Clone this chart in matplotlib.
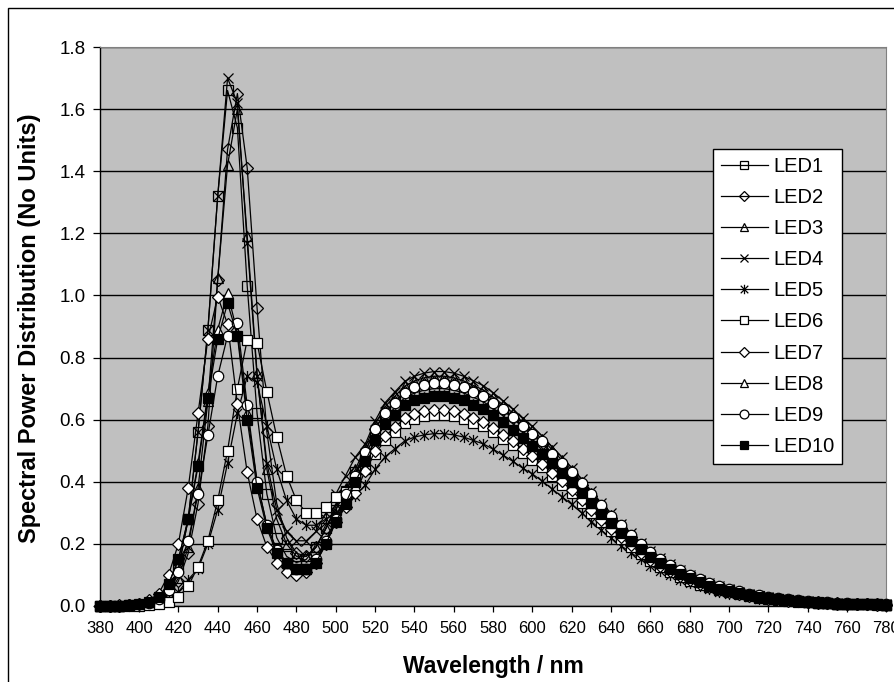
import matplotlib
matplotlib.use("Agg")
import matplotlib.pyplot as plt
from matplotlib.path import Path
from matplotlib.patches import Rectangle

# wavelength categories (nm), one point every 5 nm
wavelength = list(range(380, 785, 5))

# spectral power per LED, rows of 9 values: 380-420, 425-465, ... 740-780
led1 = [0.000, 0.000, 0.001, 0.002, 0.004, 0.008, 0.020, 0.050, 0.120,
        0.280, 0.560, 0.890, 1.320, 1.660, 1.540, 1.030, 0.620, 0.360,
        0.220, 0.160, 0.140, 0.150, 0.190, 0.250, 0.310, 0.370, 0.430,
        0.483, 0.553, 0.606, 0.638, 0.670, 0.686, 0.695, 0.700, 0.700,
        0.695, 0.686, 0.672, 0.658, 0.637, 0.613, 0.588, 0.560, 0.536,
        0.508, 0.476, 0.445, 0.413, 0.378, 0.343, 0.308, 0.277, 0.245,
        0.217, 0.189, 0.165, 0.144, 0.125, 0.107, 0.092, 0.079, 0.068,
        0.058, 0.050, 0.043, 0.036, 0.031, 0.027, 0.022, 0.019, 0.016,
        0.014, 0.012, 0.010, 0.008, 0.007, 0.006, 0.006, 0.005, 0.004]

led2 = [0.000, 0.000, 0.001, 0.002, 0.004, 0.007, 0.015, 0.035, 0.080,
        0.170, 0.330, 0.580, 1.050, 1.470, 1.650, 1.410, 0.960, 0.560,
        0.330, 0.220, 0.170, 0.160, 0.190, 0.250, 0.310, 0.370, 0.430,
        0.497, 0.569, 0.624, 0.657, 0.689, 0.706, 0.715, 0.720, 0.720,
        0.715, 0.706, 0.691, 0.677, 0.655, 0.630, 0.605, 0.576, 0.551,
        0.522, 0.490, 0.457, 0.425, 0.389, 0.353, 0.317, 0.284, 0.252,
        0.223, 0.194, 0.169, 0.148, 0.128, 0.110, 0.095, 0.081, 0.070,
        0.060, 0.051, 0.044, 0.037, 0.032, 0.027, 0.023, 0.019, 0.017,
        0.014, 0.012, 0.010, 0.009, 0.007, 0.006, 0.006, 0.005, 0.004]

led3 = [0.000, 0.000, 0.001, 0.002, 0.004, 0.009, 0.020, 0.040, 0.090,
        0.190, 0.380, 0.660, 1.055, 1.420, 1.600, 1.190, 0.750, 0.440,
        0.280, 0.200, 0.160, 0.160, 0.190, 0.250, 0.320, 0.380, 0.440,
        0.511, 0.585, 0.641, 0.675, 0.708, 0.725, 0.735, 0.740, 0.740,
        0.735, 0.725, 0.710, 0.696, 0.673, 0.648, 0.622, 0.592, 0.566,
        0.537, 0.503, 0.470, 0.437, 0.400, 0.363, 0.326, 0.292, 0.259,
        0.229, 0.200, 0.174, 0.152, 0.132, 0.113, 0.098, 0.084, 0.072,
        0.061, 0.053, 0.045, 0.038, 0.033, 0.028, 0.024, 0.020, 0.017,
        0.015, 0.013, 0.010, 0.009, 0.007, 0.007, 0.006, 0.005, 0.004]

led4 = [0.000, 0.000, 0.001, 0.002, 0.004, 0.008, 0.020, 0.050, 0.120,
        0.280, 0.560, 0.890, 1.320, 1.700, 1.620, 1.170, 0.740, 0.460,
        0.310, 0.240, 0.210, 0.210, 0.240, 0.300, 0.360, 0.420, 0.480,
        0.521, 0.596, 0.654, 0.689, 0.723, 0.740, 0.750, 0.755, 0.755,
        0.750, 0.740, 0.725, 0.710, 0.687, 0.661, 0.634, 0.604, 0.578,
        0.547, 0.513, 0.479, 0.445, 0.408, 0.370, 0.332, 0.298, 0.264,
        0.234, 0.204, 0.177, 0.155, 0.134, 0.116, 0.100, 0.085, 0.073,
        0.063, 0.054, 0.046, 0.039, 0.033, 0.029, 0.024, 0.020, 0.017,
        0.015, 0.013, 0.011, 0.009, 0.008, 0.007, 0.006, 0.005, 0.005]

led5 = [0.000, 0.000, 0.000, 0.001, 0.002, 0.004, 0.008, 0.020, 0.045,
        0.085, 0.120, 0.200, 0.310, 0.460, 0.620, 0.740, 0.720, 0.580,
        0.440, 0.340, 0.280, 0.260, 0.260, 0.280, 0.300, 0.330, 0.355,
        0.390, 0.440, 0.480, 0.506, 0.531, 0.544, 0.551, 0.555, 0.555,
        0.551, 0.544, 0.533, 0.522, 0.505, 0.486, 0.466, 0.444, 0.425,
        0.402, 0.377, 0.352, 0.327, 0.300, 0.272, 0.244, 0.219, 0.194,
        0.172, 0.150, 0.130, 0.114, 0.099, 0.085, 0.073, 0.063, 0.054,
        0.046, 0.039, 0.034, 0.029, 0.024, 0.021, 0.018, 0.015, 0.013,
        0.011, 0.009, 0.008, 0.007, 0.006, 0.005, 0.004, 0.004, 0.003]

led6 = [0.000, 0.000, 0.000, 0.000, 0.001, 0.003, 0.006, 0.014, 0.028,
        0.064, 0.127, 0.210, 0.340, 0.500, 0.700, 0.857, 0.848, 0.690,
        0.545, 0.420, 0.340, 0.300, 0.300, 0.320, 0.350, 0.368, 0.400,
        0.440, 0.490, 0.533, 0.561, 0.589, 0.603, 0.611, 0.615, 0.615,
        0.611, 0.603, 0.590, 0.578, 0.560, 0.538, 0.517, 0.492, 0.470,
        0.446, 0.418, 0.390, 0.363, 0.332, 0.301, 0.271, 0.243, 0.215,
        0.191, 0.166, 0.145, 0.126, 0.109, 0.094, 0.081, 0.069, 0.060,
        0.051, 0.044, 0.038, 0.032, 0.027, 0.023, 0.020, 0.017, 0.014,
        0.012, 0.010, 0.009, 0.007, 0.006, 0.006, 0.005, 0.004, 0.004]

led7 = [0.000, 0.001, 0.002, 0.004, 0.008, 0.018, 0.040, 0.100, 0.200,
        0.380, 0.620, 0.860, 0.996, 0.908, 0.650, 0.430, 0.280, 0.190,
        0.140, 0.110, 0.100, 0.110, 0.140, 0.200, 0.270, 0.320, 0.364,
        0.435, 0.498, 0.546, 0.575, 0.604, 0.618, 0.627, 0.631, 0.631,
        0.627, 0.618, 0.606, 0.593, 0.574, 0.552, 0.530, 0.505, 0.483,
        0.457, 0.429, 0.401, 0.372, 0.341, 0.309, 0.278, 0.249, 0.221,
        0.196, 0.170, 0.148, 0.129, 0.112, 0.097, 0.083, 0.071, 0.061,
        0.052, 0.045, 0.038, 0.033, 0.028, 0.024, 0.020, 0.017, 0.015,
        0.013, 0.011, 0.009, 0.008, 0.006, 0.006, 0.005, 0.004, 0.004]

led8 = [0.000, 0.000, 0.001, 0.003, 0.006, 0.013, 0.030, 0.070, 0.150,
        0.280, 0.460, 0.685, 0.890, 1.007, 0.880, 0.620, 0.400, 0.260,
        0.180, 0.140, 0.120, 0.120, 0.150, 0.210, 0.280, 0.335, 0.390,
        0.468, 0.536, 0.588, 0.619, 0.649, 0.665, 0.673, 0.678, 0.678,
        0.673, 0.665, 0.651, 0.638, 0.617, 0.594, 0.570, 0.543, 0.519,
        0.492, 0.462, 0.431, 0.400, 0.367, 0.333, 0.299, 0.268, 0.238,
        0.210, 0.183, 0.160, 0.139, 0.121, 0.104, 0.090, 0.077, 0.066,
        0.056, 0.048, 0.041, 0.035, 0.030, 0.026, 0.022, 0.018, 0.016,
        0.014, 0.011, 0.009, 0.008, 0.007, 0.006, 0.005, 0.005, 0.004]

led9 = [0.000, 0.000, 0.001, 0.002, 0.005, 0.010, 0.022, 0.050, 0.110,
        0.210, 0.360, 0.550, 0.740, 0.870, 0.910, 0.646, 0.400, 0.260,
        0.180, 0.140, 0.120, 0.120, 0.150, 0.210, 0.280, 0.360, 0.420,
        0.497, 0.569, 0.622, 0.655, 0.687, 0.704, 0.713, 0.718, 0.718,
        0.713, 0.704, 0.690, 0.677, 0.655, 0.633, 0.610, 0.580, 0.555,
        0.530, 0.490, 0.460, 0.430, 0.395, 0.360, 0.325, 0.290, 0.260,
        0.230, 0.200, 0.175, 0.152, 0.132, 0.115, 0.100, 0.086, 0.074,
        0.064, 0.055, 0.047, 0.040, 0.034, 0.029, 0.025, 0.021, 0.018,
        0.016, 0.014, 0.012, 0.010, 0.009, 0.008, 0.007, 0.006, 0.005]

led10 = [0.000, 0.001, 0.001, 0.003, 0.006, 0.013, 0.030, 0.070, 0.150,
         0.280, 0.450, 0.670, 0.860, 0.975, 0.870, 0.600, 0.380, 0.250,
         0.170, 0.140, 0.120, 0.120, 0.140, 0.200, 0.270, 0.330, 0.400,
         0.466, 0.533, 0.585, 0.616, 0.646, 0.662, 0.670, 0.675, 0.675,
         0.670, 0.662, 0.648, 0.635, 0.614, 0.591, 0.567, 0.540, 0.516,
         0.489, 0.459, 0.429, 0.398, 0.365, 0.331, 0.297, 0.267, 0.236,
         0.209, 0.182, 0.159, 0.138, 0.120, 0.103, 0.089, 0.076, 0.065,
         0.056, 0.048, 0.041, 0.035, 0.030, 0.026, 0.022, 0.018, 0.016,
         0.014, 0.011, 0.009, 0.008, 0.007, 0.006, 0.005, 0.005, 0.004]

labels = ["LED1", "LED2", "LED3", "LED4", "LED5",
          "LED6", "LED7", "LED8", "LED9", "LED10"]
x_ticks = list(range(380, 800, 20))
y_ticks = [0.0, 0.2, 0.4, 0.6, 0.8, 1.0, 1.2, 1.4, 1.6, 1.8]


def main():
    plt.rcParams["font.family"] = ["Liberation Sans", "DejaVu Sans"]

    W, H = 894, 682
    fig = plt.figure(figsize=(W / 100, H / 100), dpi=100)
    ax = fig.add_axes([99.7 / W, 1 - 606 / H, (886.5 - 99.7) / W, (606 - 47) / H])
    ax.set_facecolor("#C0C0C0")

    # excel style asterisk: an x with a vertical bar
    star = Path([(-1, -1), (1, 1), (-1, 1), (1, -1), (0, -1.25), (0, 1.25)],
                [Path.MOVETO, Path.LINETO] * 3)

    series = [led1, led2, led3, led4, led5, led6, led7, led8, led9, led10]
    styles = [
        ("s", "none", 7.0),
        ("D", "none", 6.0),
        ("^", "none", 7.5),
        ("x", "none", 7.5),
        (star, "none", 8.0),
        ("s", "white", 7.0),
        ("D", "white", 6.0),
        ("^", "white", 7.5),
        ("o", "white", 7.5),
        ("s", "black", 7.0),
    ]

    for vals, lab, (mk, fc, ms) in zip(series, labels, styles):
        ax.plot(wavelength, vals, color="black", lw=0.9, marker=mk,
                markersize=ms, markerfacecolor=fc, markeredgecolor="black",
                markeredgewidth=0.9, label=lab, zorder=3, clip_on=False)

    ax.set_xlim(380, 780)
    ax.set_ylim(0, 1.8)
    ax.set_xticks(x_ticks)
    ax.set_xticklabels([str(v) for v in x_ticks])
    ax.set_yticks(y_ticks)
    ax.set_yticklabels([f"{v:.1f}" for v in y_ticks])
    ax.tick_params(axis="x", direction="out", length=4, width=0.9, pad=7,
                   labelsize=12)
    ax.tick_params(axis="y", direction="out", length=5, width=0.9, pad=5,
                   labelsize=13.5)

    ax.yaxis.grid(True, color="black", lw=1.0, zorder=1)
    ax.set_axisbelow(True)
    ax.spines["left"].set_color("black")
    ax.spines["bottom"].set_color("black")
    ax.spines["left"].set_linewidth(1.0)
    ax.spines["bottom"].set_linewidth(1.0)
    ax.spines["top"].set_color("#808080")
    ax.spines["right"].set_color("#808080")

    fig.text(30 / W, 1 - 328 / H, "Spectral Power Distribution (No Units)",
             rotation=90, ha="center", va="center", fontsize=17,
             fontweight="bold")
    fig.text(493 / W, 1 - 666 / H, "Wavelength / nm", ha="center",
             va="center", fontsize=16.5, fontweight="bold")

    leg = ax.legend(loc="upper left", bbox_to_anchor=(712.7 / W, 1 - 149 / H),
                    bbox_transform=fig.transFigure, frameon=True,
                    fancybox=False, edgecolor="black", framealpha=1,
                    borderaxespad=0, fontsize=14.5, labelspacing=0.6,
                    handlelength=2.35, handletextpad=0.25, borderpad=0.4,
                    markerscale=0.85)
    leg.get_frame().set_linewidth(1.0)
    leg.set_zorder(5)

    # outer chart border (right and bottom edges fall outside the image)
    fig.patches.append(Rectangle((8 / W, -0.1), 1.2, 1 - 8 / H + 0.1,
                                 transform=fig.transFigure, fill=False,
                                 edgecolor="black", lw=1.0))

    fig.savefig("out.png", dpi=100)
    plt.close(fig)


if __name__ == "__main__":
    main()
